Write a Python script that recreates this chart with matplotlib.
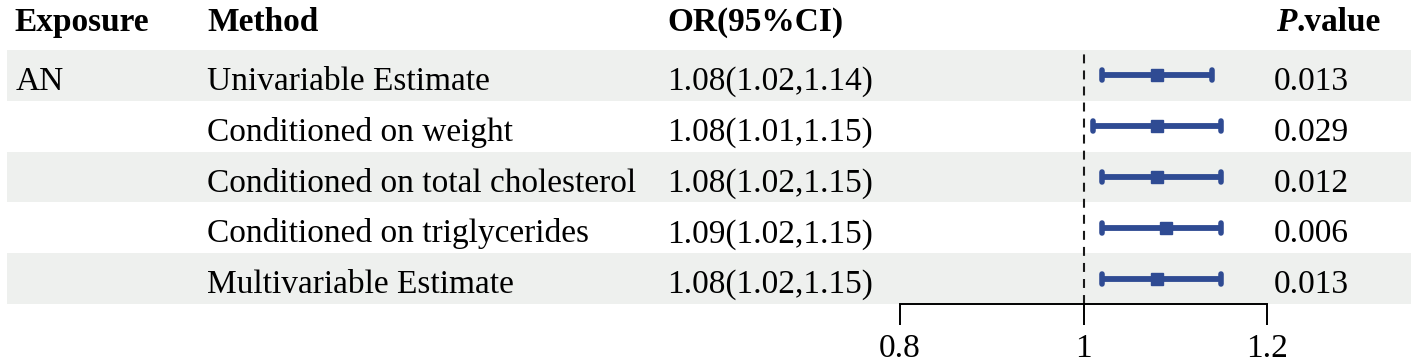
import matplotlib
matplotlib.use("Agg")
import matplotlib.pyplot as plt

# forest plot data
exposure = ["AN", "", "", "", ""]
methods = ["Univariable Estimate", "Conditioned on weight",
           "Conditioned on total cholesterol", "Conditioned on triglycerides",
           "Multivariable Estimate"]
or_est = [1.08, 1.08, 1.08, 1.09, 1.08]
ci_low = [1.02, 1.01, 1.02, 1.02, 1.02]
ci_high = [1.14, 1.15, 1.15, 1.15, 1.15]
p_values = ["0.013", "0.029", "0.012", "0.006", "0.013"]
x_ticks = [0.8, 1.0, 1.2]
x_ticklabels = ["0.8", "1", "1.2"]

W, H = 1418, 364
BLUE = "#2F4B93"
BAND = "#EEF0EE"
FS = 24

plt.rcParams["font.family"] = ["Liberation Serif", "DejaVu Serif"]

fig = plt.figure(figsize=(W / 100, H / 100), dpi=100)

# background axes in pixel-like layout coords (y grows downwards)
bg = fig.add_axes([0, 0, 1, 1])
bg.set_xlim(0, W)
bg.set_ylim(H, 0)
bg.axis("off")

top, row_h = 50, 50.8
n = len(methods)
for i in range(n):
    y0 = top + row_h * i
    yb = y0 + row_h / 2 + 14.5  # text baseline
    if i % 2 == 0:
        bg.fill_between([7, 1411], y0, y0 + row_h, color=BAND, lw=0, zorder=0)
    bg.text(16, yb, exposure[i], fontsize=FS, va="baseline", ha="left")
    bg.text(207, yb, methods[i], fontsize=FS, va="baseline", ha="left")
    bg.text(667, yb, f"{or_est[i]:.2f}({ci_low[i]:.2f},{ci_high[i]:.2f})",
            fontsize=FS, va="baseline", ha="left")
    bg.text(1274, yb, p_values[i], fontsize=FS, va="baseline", ha="left")

hy = 31
bg.text(14, hy, "Exposure", fontsize=FS, fontweight="bold", va="baseline")
bg.text(207, hy, "Method", fontsize=FS, fontweight="bold", va="baseline")
bg.text(667, hy, "OR(95%CI)", fontsize=FS, fontweight="bold", va="baseline")
tp = bg.text(1276, hy, "P", fontsize=FS, fontweight="bold", style="italic",
             va="baseline")
bg.annotate(".value", xy=(1, 0), xycoords=tp, fontsize=FS, fontweight="bold",
            va="bottom", ha="left")

# forest axes
ax = fig.add_axes([900 / W, (H - 304) / H, 367 / W, (304 - top) / H])
ax.patch.set_alpha(0)
ax.set_xlim(0.8, 1.2)
ax.set_ylim(n - 0.5, -0.5)
rows = list(range(n))
ax.axvline(1.0, color="#1a1a1a", lw=1.5, ls=(0, (4.3, 3.4)), zorder=1)
ax.hlines(rows, ci_low, ci_high, color=BLUE, lw=4.2, zorder=3)
cap = 0.1
for lo_hi in (ci_low, ci_high):
    ax.vlines(lo_hi, [r - cap for r in rows], [r + cap for r in rows],
              color=BLUE, lw=4.0, capstyle="round", zorder=3)
ax.plot(or_est, rows, "s", color=BLUE, ms=9, zorder=4)
for s in ["top", "right", "left"]:
    ax.spines[s].set_visible(False)
ax.spines["bottom"].set_linewidth(1.4)
ax.set_yticks([])
ax.set_xticks(x_ticks)
ax.set_xticklabels(x_ticklabels, fontsize=FS)
ax.tick_params(axis="x", length=15, width=1.4, pad=6)

fig.savefig("out.png", dpi=100)
